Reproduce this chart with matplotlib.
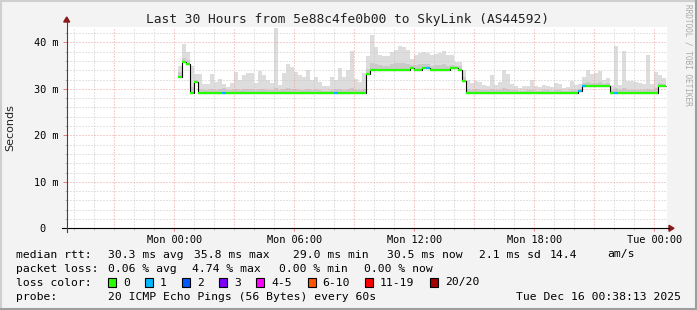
#! /usr/bin/python3

import pandas as pd
import matplotlib
matplotlib.use("Agg")
from matplotlib import pyplot as plt
import matplotlib.dates as mdates
from matplotlib.lines import Line2D
from matplotlib.patches import Polygon, Rectangle

W, H = 697, 310

title = "Last 30 Hours from 5e88c4fe0b00 to SkyLink (AS44592)"
end_time = pd.Timestamp("2025-12-16 00:38:13")
start_time = end_time - pd.Timedelta(hours=30)
first_sample = pd.Timestamp("2025-12-15 00:12:00")
step_minutes = 12

# median rtt per 12 min step (ms)
median_ms = [
    32.6, 35.8, 35.3, 29.2, 31.4,
    29.2, 29.2, 29.2, 29.2, 29.2, 29.2, 29.2, 29.2, 29.2, 29.2,
    29.2, 29.2, 29.2, 29.2, 29.2, 29.2, 29.2, 29.2, 29.2, 29.2,
    29.2, 29.2, 29.2, 29.2, 29.2, 29.2, 29.2, 29.2, 29.2, 29.2,
    29.2, 29.2, 29.2, 29.2, 29.2, 29.2, 29.2, 29.2, 29.2, 29.2,
    29.2, 29.2,
    33.1,
    34.1, 34.1, 34.1, 34.1, 34.1, 34.1, 34.1, 34.1, 34.1, 34.1,
    34.4, 34.1, 34.1, 34.4, 34.4, 34.1, 34.1, 34.1, 34.1, 34.1,
    34.4, 34.4, 34.1,
    31.7,
    29.2, 29.2, 29.2, 29.2, 29.2, 29.2, 29.2, 29.2, 29.2, 29.2,
    29.2, 29.2, 29.2, 29.2, 29.2, 29.2, 29.2, 29.2, 29.2, 29.2,
    29.2, 29.2, 29.2, 29.2, 29.2, 29.2, 29.2, 29.2,
    29.5,
    30.6, 30.6, 30.6, 30.6, 30.6, 30.6, 30.6,
    29.2, 29.2, 29.2, 29.2, 29.2, 29.2, 29.2, 29.2, 29.2, 29.2,
    29.2, 29.2,
    30.6, 30.6,
]

# highest ping of each step (top of the smoke)
smoke_top_ms = [
    35.0, 39.6, 38.0, 34.9, 33.2, 33.2, 31.0, 31.0, 33.2, 31.5,
    32.2, 31.0, 30.4, 31.3, 33.6, 32.0, 32.9, 33.5, 33.5, 31.3,
    33.9, 33.0, 32.0, 31.3, 43.0, 30.9, 33.3, 35.3, 34.8, 33.6,
    33.0, 32.5, 34.0, 32.0, 32.6, 31.5, 30.7, 30.6, 32.6, 31.8,
    34.5, 32.5, 34.0, 38.1, 32.2, 31.5, 33.3, 37.0, 41.5, 39.0,
    37.2, 37.0, 37.0, 38.0, 38.4, 39.3, 39.1, 38.3, 36.5, 37.3,
    37.8, 38.0, 37.6, 37.2, 37.4, 37.6, 38.2, 37.2, 37.2, 35.8,
    35.8, 34.0, 31.8, 31.3, 31.7, 31.5, 30.8, 30.7, 33.0, 30.8,
    31.5, 34.1, 33.2, 31.0, 30.6, 30.2, 30.6, 30.7, 31.9, 30.6,
    30.3, 30.8, 30.7, 30.4, 31.2, 31.0, 30.2, 30.3, 31.7, 30.9,
    31.0, 32.6, 34.0, 33.2, 33.3, 33.9, 32.0, 32.4, 30.8, 39.2,
    30.9, 38.1, 31.6, 31.7, 31.4, 31.3, 31.0, 37.3, 31.1, 33.7,
    33.0, 32.3,
]

# denser part of the smoke just above the median
smoke_mid_ms = [
    33.6, 36.6, 36.2, 30.4, 31.9,
    29.9, 29.7, 29.7, 30.0, 29.8, 29.9, 30.1, 29.7, 29.8, 30.0,
    29.8, 29.9, 30.0, 29.9, 29.7, 30.0, 29.9, 29.8, 29.7, 30.2,
    29.7, 29.9, 30.1, 30.0, 29.9, 29.8, 29.8, 30.0, 29.8, 29.9,
    29.7, 29.6, 29.6, 29.8, 30.0, 30.0, 29.8, 29.9, 30.1, 29.8,
    29.7, 29.9,
    34.2,
    35.6, 35.4, 35.2, 35.0, 35.0, 35.3, 35.5, 35.6, 35.5, 35.3,
    35.2, 35.1, 35.3, 35.4, 35.4, 35.0, 35.1, 35.2, 35.3, 35.0,
    35.2, 35.0, 35.0,
    32.6,
    29.9, 29.8, 29.9, 29.8, 29.7, 29.7, 30.0, 29.7, 29.8, 30.1,
    30.0, 29.7, 29.7, 29.6, 29.6, 29.7, 29.8, 29.6, 29.6, 29.7,
    29.7, 29.6, 29.8, 29.7, 29.6, 29.6, 29.8, 29.7,
    29.9,
    31.2, 31.5, 31.3, 31.3, 31.4, 31.1, 31.2,
    29.7, 30.2, 29.7, 30.1, 29.8, 29.8, 29.7, 29.7, 29.7, 30.0,
    29.7, 30.1,
    31.3, 31.1,
]

# lost pings (of 20) per step
lost_pings = [0] * 122
for i in (11, 39, 62, 100, 101, 109):
    lost_pings[i] = 1

loss_labels = ["0", "1", "2", "3", "4-5", "6-10", "11-19", "20/20"]
loss_colors = ["#26ff00", "#00b8ff", "#0059ff", "#7e00ff", "#ff00ff",
               "#ff5500", "#ff0000", "#a10000"]

rtt_stats = ["30.3 ms avg", "35.8 ms max", "29.0 ms min", "30.5 ms now",
             "2.1 ms sd", "14.4", "am/s"]
loss_stats = ["0.06 % avg", "4.74 % max", "0.00 % min", "0.00 % now"]
probe_text = "20 ICMP Echo Pings (56 Bytes) every 60s"
stamp_text = "Tue Dec 16 00:38:13 2025"

ytick_vals = [0, 10, 20, 30, 40]
ytick_labels = ["0  ", "10 m", "20 m", "30 m", "40 m"]

assert len(median_ms) == len(smoke_top_ms) == len(smoke_mid_ms) == 122

MONO = "DejaVu Sans Mono"
BG = "#f3f3f3"


def fx(x):
    return x / W


def fy(y):
    return 1 - y / H


fig = plt.figure(figsize=(W / 100, H / 100), dpi=100, facecolor=BG)

# 3d-ish frame
fig.add_artist(Line2D([0, 1], [fy(1), fy(1)], color="#cfcfcf", lw=1.5, transform=fig.transFigure))
fig.add_artist(Line2D([fx(1), fx(1)], [0, 1], color="#cfcfcf", lw=1.5, transform=fig.transFigure))
fig.add_artist(Line2D([0, 1], [fy(309), fy(309)], color="#9e9e9e", lw=1.5, transform=fig.transFigure))
fig.add_artist(Line2D([fx(696), fx(696)], [0, 1], color="#9e9e9e", lw=1.5, transform=fig.transFigure))

ax = fig.add_axes([fx(67), fy(228.3), (667 - 67) / W, (228.3 - 27) / H])
ax.set_facecolor("white")
for s in ax.spines.values():
    s.set_visible(False)

x0 = mdates.date2num(start_time)
x1 = mdates.date2num(end_time)
ax.set_xlim(x0, x1)
ax.set_ylim(0, 43.3)

times = pd.date_range(first_sample, periods=len(median_ms), freq=f"{step_minutes}min")
xs = mdates.date2num(times)
width = step_minutes / 1440
edges = list(xs) + [xs[-1] + width]

top_h = [t - m for t, m in zip(smoke_top_ms, median_ms)]
mid_h = [t - m for t, m in zip(smoke_mid_ms, median_ms)]
ax.bar(xs, top_h, bottom=median_ms, width=width, align="edge",
       color="#dddddd", linewidth=0, zorder=1)
ax.bar(xs, mid_h, bottom=median_ms, width=width, align="edge",
       color="#cacaca", linewidth=0, zorder=1.1)

# grid
minor_c, major_c = "#c8c8c8", "#eaa0a0"
for h in pd.date_range(start_time.ceil("h"), end_time, freq="h"):
    c = major_c if h.hour % 3 == 0 else minor_c
    ax.axvline(mdates.date2num(h), color=c, lw=0.72, dashes=(1, 2), zorder=2)
for v in range(2, 44, 2):
    c = major_c if v % 10 == 0 else minor_c
    ax.axhline(v, color=c, lw=0.72, dashes=(1, 2), zorder=2)

# median line coloured by loss
ax.stairs(median_ms, edges, baseline=None, color="black", lw=0.8, zorder=3)
seg_colors = [loss_colors[n] for n in lost_pings]
ax.hlines(median_ms, edges[:-1], edges[1:], colors=seg_colors, lw=1.6, zorder=4)

# ticks
major_ticks = pd.date_range("2025-12-15 00:00", end_time, freq="6h")
ax.set_xticks(mdates.date2num(major_ticks))
ax.set_xticklabels([t.strftime("%a %H:%M") for t in major_ticks], fontfamily=MONO, fontsize=7.4)
ax.set_xticks(mdates.date2num(pd.date_range(start_time.ceil("h"), end_time, freq="h")), minor=True)
ax.tick_params(axis="x", which="major", length=2, width=0.7, color="#e08080", pad=2.5)
ax.tick_params(axis="x", which="minor", length=1.5, width=0.7, color="#bbbbbb")
ax.set_yticks(ytick_vals)
ax.set_yticklabels(ytick_labels, fontfamily=MONO, fontsize=7.4)
ax.set_yticks(range(2, 44, 2), minor=True)
ax.tick_params(axis="y", which="major", length=3, width=0.7, color="#e08080", pad=3)
ax.tick_params(axis="y", which="minor", length=1.5, width=0.7, color="#bbbbbb")

# axis lines with arrows
fig.add_artist(Line2D([fx(62), fx(669)], [fy(228.3), fy(228.3)], color="black", lw=0.8, transform=fig.transFigure))
fig.add_artist(Line2D([fx(66.7), fx(66.7)], [fy(232), fy(22)], color="#444444", lw=0.8, transform=fig.transFigure))
fig.add_artist(Polygon([[fx(669), fy(225.3)], [fx(669), fy(231.3)], [fx(674), fy(228.3)]],
                       closed=True, color="#8b1a1a", transform=fig.transFigure))
fig.add_artist(Polygon([[fx(63.7), fy(22)], [fx(69.7), fy(22)], [fx(66.7), fy(17)]],
                       closed=True, color="#8b1a1a", transform=fig.transFigure))

# titles
fig.text(fx(347.5), fy(19), title, fontfamily=MONO, fontsize=9.3, ha="center", va="center", color="#222222")
fig.text(fx(10), fy(128), "Seconds", fontfamily="DejaVu Sans", fontsize=8, rotation=90,
         ha="center", va="center", color="#222222")
fig.text(fx(688), fy(4), "RRDTOOL / TOBI OETIKER", fontfamily=MONO, fontsize=5.6, rotation=270,
         ha="center", va="top", color="#aaaaaa")

# legend
lfs = 8.2
fig.text(fx(16), fy(254.5), "median rtt:", fontfamily=MONO, fontsize=lfs, va="center")
for s, xp in zip(rtt_stats, [107.5, 194, 293, 387, 479, 550, 607]):
    fig.text(fx(xp), fy(254.5), s, fontfamily=MONO, fontsize=lfs, va="center")
fig.text(fx(16), fy(268.5), "packet loss:", fontfamily=MONO, fontsize=lfs, va="center")
for s, xp in zip(loss_stats, [107.5, 192.4, 279, 364]):
    fig.text(fx(xp), fy(268.5), s, fontfamily=MONO, fontsize=lfs, va="center")
fig.text(fx(16), fy(282.5), "loss color:", fontfamily=MONO, fontsize=lfs, va="center")
box_x = [108, 145, 182, 219, 256, 307.5, 365, 430]
for lab, col, bx in zip(loss_labels, loss_colors, box_x):
    fig.add_artist(Rectangle((fx(bx), fy(287)), 8 / W, 9 / H, facecolor=col, edgecolor="black",
                             lw=0.8, transform=fig.transFigure))
    fig.text(fx(bx + 15), fy(282.5), lab, fontfamily=MONO, fontsize=lfs, va="center")
fig.text(fx(16), fy(296.5), "probe:", fontfamily=MONO, fontsize=lfs, va="center")
fig.text(fx(107.5), fy(296.5), probe_text, fontfamily=MONO, fontsize=lfs, va="center")
fig.text(fx(681), fy(296.5), stamp_text, fontfamily=MONO, fontsize=lfs, va="center", ha="right")

fig.savefig("out.png", dpi=100, facecolor=BG)
